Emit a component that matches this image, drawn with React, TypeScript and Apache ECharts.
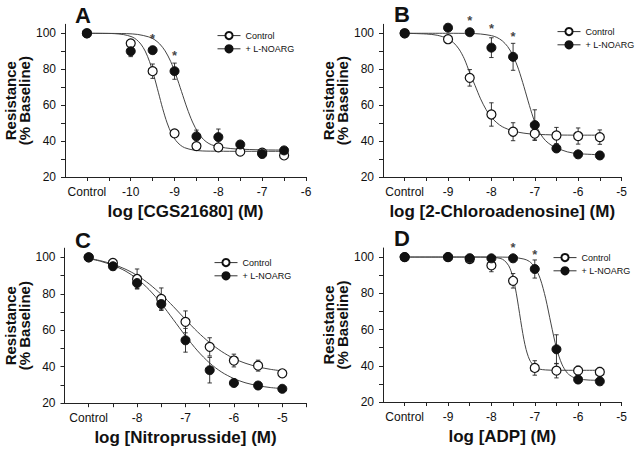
import React, { useEffect, useRef } from 'react';
import * as echarts from 'echarts';

// ---------- shared tick values ----------
const yTickValues = [20, 30, 40, 50, 60, 70, 80, 90, 100];
const yLabelValues = [20, 40, 60, 80, 100];
const seriesNames = ['Control', '+ L-NOARG'];

// ---------- Panel A : CGS21680 ----------
const aTitle = 'log [CGS21680] (M)';
const aControlX = -11;
const aXTicks = [-11, -10.5, -10, -9.5, -9, -8.5, -8, -7.5, -7, -6.5, -6];
const aXLabels = [-11, -10, -9, -8, -7, -6];
const aDose = [-11, -10, -9.5, -9, -8.5, -8, -7.5, -7, -6.5];
const aCtrl = [100, 94.4, 78.9, 44.3, 37.2, 36.5, 34.1, 33.5, 32.0];
const aCtrlErr = [0, 1.5, 4, 1, 1.5, 1, 1, 1, 1];
const aNoarg = [100, 90, 90.6, 78.9, 42.6, 42.2, 38.1, 32.8, 34.8];
const aNoargErr = [0, 3, 2, 4.5, 3.5, 4.5, 1.5, 1.5, 1];
const aCtrlFitX = [-11, -10.5, -10.37, -10.17, -9.97, -9.87, -9.77, -9.67, -9.57, -9.47, -9.37, -9.27, -9.17, -9.07, -8.97, -8.87, -8.77, -8.57, -8.37, -8, -7.5, -7, -6.5];
const aCtrlFitY = [100, 99.9, 99.8, 99.3, 98.0, 96.5, 94.0, 90.1, 84.2, 76.3, 67.2, 58.0, 50.1, 44.2, 40.3, 37.8, 36.3, 35.0, 34.5, 34.35, 34.3, 34.3, 34.3];
const aNoargFitX = [-11, -10.34, -10.09, -9.84, -9.59, -9.465, -9.34, -9.215, -9.09, -8.965, -8.84, -8.715, -8.59, -8.465, -8.34, -8.215, -8.09, -7.84, -7.59, -7, -6.5];
const aNoargFitY = [100, 99.9, 99.8, 99.35, 98.0, 96.6, 94.1, 90.2, 84.4, 76.6, 67.5, 58.4, 50.6, 44.8, 40.9, 38.6, 37.4, 36.2, 35.6, 35.1, 35.0];
const aStarX = [-9.5, -9];
const aStarY = [98.9, 89.4];

// ---------- Panel B : 2-Chloroadenosine ----------
const bTitle = 'log [2-Chloroadenosine] (M)';
const bControlX = -10;
const bXTicks = [-10, -9.5, -9, -8.5, -8, -7.5, -7, -6.5, -6, -5.5, -5];
const bXLabels = [-10, -9, -8, -7, -6, -5];
const bDose = [-10, -9, -8.5, -8, -7.5, -7, -6.5, -6, -5.5];
const bCtrl = [100, 96.7, 75.2, 54.8, 45.2, 44.1, 43.1, 42.8, 42.2];
const bCtrlErr = [0, 1, 4.6, 6.5, 5, 3.5, 4.5, 4.5, 4];
const bNoarg = [100, 103.1, 100.6, 92.0, 86.9, 48.9, 35.9, 32.6, 32.0];
const bNoargErr = [0, 0.5, 0.5, 5.5, 7.5, 8.5, 2, 1.5, 2];
const bCtrlFitX = [-10, -9.5, -9.25, -9, -8.875, -8.75, -8.625, -8.5, -8.375, -8.25, -8.125, -8, -7.875, -7.75, -7.5, -7.25, -7, -6.5, -6, -5.5];
const bCtrlFitY = [100, 99.6, 98.9, 97, 94.8, 91.3, 85.8, 78, 70.8, 63.5, 57.6, 53.2, 50.2, 48.0, 45.6, 44.4, 43.8, 43.4, 43.3, 43.3];
const bNoargFitX = [-10, -9, -8.5, -8.25, -8, -7.875, -7.75, -7.625, -7.5, -7.375, -7.25, -7.125, -7, -6.875, -6.75, -6.625, -6.5, -6.25, -6, -5.5];
const bNoargFitY = [100, 100, 99.9, 99.6, 98.7, 97.7, 95.8, 92.6, 87.5, 80.0, 70.3, 59.9, 50.6, 44.2, 40.2, 37.8, 36.2, 34.0, 33.0, 32.4];
const bStarX = [-8.5, -8, -7.5];
const bStarY = [108.9, 104.2, 100];

// ---------- Panel C : Nitroprusside ----------
const cTitle = 'log [Nitroprusside] (M)';
const cControlX = -9;
const cXTicks = [-9, -8.5, -8, -7.5, -7, -6.5, -6, -5.5, -5, -4.5];
const cXLabels = [-9, -8, -7, -6, -5];
const cDose = [-9, -8.5, -8, -7.5, -7, -6.5, -6, -5.5, -5];
const cCtrl = [100, 96.9, 88.1, 77.2, 64.6, 50.9, 43.4, 40.6, 36.4];
const cCtrlErr = [0, 2, 5.5, 6, 6, 5, 3.5, 3, 1];
const cNoarg = [100, 95.1, 85.9, 74.4, 54.5, 38.1, 31.1, 29.7, 27.9];
const cNoargErr = [0, 2, 3, 3.5, 6.5, 7, 2, 1.5, 1];
const cFitX = [-9, -8.75, -8.5, -8.25, -8, -7.75, -7.5, -7.25, -7, -6.75, -6.5, -6.25, -6, -5.75, -5.5, -5.25, -5];
const cCtrlFitY = [99.5, 98.1, 96.2, 93.6, 90.1, 85.4, 79.6, 73.0, 65.9, 59.1, 53.2, 48.3, 44.5, 41.8, 39.9, 38.6, 37.7];
const cNoargFitY = [99.3, 97.8, 95.6, 92.6, 88.2, 82.2, 74.6, 65.8, 56.9, 48.7, 42.0, 37.0, 33.5, 31.1, 29.6, 28.6, 28.0];
const cStarX: number[] = [];
const cStarY: number[] = [];

// ---------- Panel D : ADP ----------
const dTitle = 'log [ADP] (M)';
const dControlX = -10;
const dXTicks = [-10, -9.5, -9, -8.5, -8, -7.5, -7, -6.5, -6, -5.5, -5];
const dXLabels = [-10, -9, -8, -7, -6, -5];
const dDose = [-10, -9, -8.5, -8, -7.5, -7, -6.5, -6, -5.5];
const dCtrl = [100, 100, 98.9, 95.4, 86.9, 38.8, 37.3, 37.3, 36.6];
const dCtrlErr = [0, 0.5, 1.5, 3.5, 4, 4, 4, 2.5, 2.5];
const dNoarg = [100, 100, 99.4, 99.3, 99.3, 93.4, 49.1, 32.4, 31.4];
const dNoargErr = [0, 0.5, 1, 0.5, 0.5, 5, 8, 1.5, 1.5];
const dCtrlFitX = [-10, -8.5, -8, -7.8, -7.7, -7.6, -7.55, -7.5, -7.45, -7.4, -7.35, -7.3, -7.25, -7.2, -7.15, -7.1, -7, -6.9, -6.75, -6.5, -5.5];
const dCtrlFitY = [100, 100, 99.9, 99.3, 98.1, 95.2, 92.4, 88.5, 83.1, 76.3, 68.75, 61.2, 54.4, 49.0, 45.1, 42.4, 39.4, 38.2, 37.7, 37.5, 37.5];
const dNoargFitX = [-10, -8, -7.5, -7.25, -7.125, -7, -6.875, -6.75, -6.625, -6.5, -6.375, -6.25, -6.125, -6, -5.75, -5.5];
const dNoargFitY = [100, 100, 99.8, 98.9, 97.6, 94.4, 88.1, 77.3, 63.1, 49.8, 40.9, 36.0, 33.8, 32.75, 32.1, 32.0];
const dStarX = [-7.5, -7];
const dStarY = [107.2, 102.9];

// ---------- layout (pixels) ----------
const FONT = 'Liberation Sans, Arial, sans-serif';
const INK = '#111';

interface Panel {
  letter: string; title: string; controlX: number; xMin: number; xMax: number;
  xTicks: number[]; xLabels: number[]; dose: number[];
  ctrl: number[]; ctrlErr: number[]; noarg: number[]; noargErr: number[];
  ctrlFitX: number[]; ctrlFitY: number[]; noargFitX: number[]; noargFitY: number[];
  starX: number[]; starY: number[];
  grid: { left: number; top: number; width: number; height: number };
  legend: { left: number; top: number };
  letterPos: [number, number];
}

const panels: Panel[] = [
  {
    letter: 'A', title: aTitle, controlX: aControlX, xMin: -11.5, xMax: -6,
    xTicks: aXTicks, xLabels: aXLabels, dose: aDose,
    ctrl: aCtrl, ctrlErr: aCtrlErr, noarg: aNoarg, noargErr: aNoargErr,
    ctrlFitX: aCtrlFitX, ctrlFitY: aCtrlFitY, noargFitX: aNoargFitX, noargFitY: aNoargFitY,
    starX: aStarX, starY: aStarY,
    grid: { left: 65, top: 24.3, width: 241, height: 152.7 },
    legend: { left: 217, top: 31 }, letterPos: [83, 15],
  },
  {
    letter: 'B', title: bTitle, controlX: bControlX, xMin: -10.5, xMax: -5,
    xTicks: bXTicks, xLabels: bXLabels, dose: bDose,
    ctrl: bCtrl, ctrlErr: bCtrlErr, noarg: bNoarg, noargErr: bNoargErr,
    ctrlFitX: bCtrlFitX, ctrlFitY: bCtrlFitY, noargFitX: bNoargFitX, noargFitY: bNoargFitY,
    starX: bStarX, starY: bStarY,
    grid: { left: 383, top: 24.3, width: 238.5, height: 152.7 },
    legend: { left: 557, top: 27 }, letterPos: [402, 14],
  },
  {
    letter: 'C', title: cTitle, controlX: cControlX, xMin: -9.5, xMax: -4.5,
    xTicks: cXTicks, xLabels: cXLabels, dose: cDose,
    ctrl: cCtrl, ctrlErr: cCtrlErr, noarg: cNoarg, noargErr: cNoargErr,
    ctrlFitX: cFitX, ctrlFitY: cCtrlFitY, noargFitX: cFitX, noargFitY: cNoargFitY,
    starX: cStarX, starY: cStarY,
    grid: { left: 64.5, top: 248.2, width: 242, height: 155 },
    legend: { left: 214, top: 258 }, letterPos: [83, 240],
  },
  {
    letter: 'D', title: dTitle, controlX: dControlX, xMin: -10.5, xMax: -5,
    xTicks: dXTicks, xLabels: dXLabels, dose: dDose,
    ctrl: dCtrl, ctrlErr: dCtrlErr, noarg: dNoarg, noargErr: dNoargErr,
    ctrlFitX: dCtrlFitX, ctrlFitY: dCtrlFitY, noargFitX: dNoargFitX, noargFitY: dNoargFitY,
    starX: dStarX, starY: dStarY,
    grid: { left: 383, top: 248, width: 238.5, height: 154 },
    legend: { left: 553, top: 253 }, letterPos: [402, 238],
  },
];

const zip = (xs: number[], ys: number[]) => xs.map((x, i) => [x, ys[i]]);
const zip3 = (xs: number[], ys: number[], es: number[]) => xs.map((x, i) => [x, ys[i], es[i]]);

function errorRender(params: any, api: any) {
  const x = api.value(0);
  const y = api.value(1);
  const e = api.value(2);
  if (!e) return null;
  const top = api.coord([x, y + e]);
  const bot = api.coord([x, y - e]);
  const hw = 2.2;
  const st = { stroke: '#222', lineWidth: 0.9 };
  return {
    type: 'group',
    children: [
      { type: 'line', shape: { x1: top[0], y1: top[1], x2: bot[0], y2: bot[1] }, style: st },
      { type: 'line', shape: { x1: top[0] - hw, y1: top[1], x2: top[0] + hw, y2: top[1] }, style: st },
      { type: 'line', shape: { x1: bot[0] - hw, y1: bot[1], x2: bot[0] + hw, y2: bot[1] }, style: st },
    ],
  };
}

function buildOption() {
  const grid: any[] = [];
  const xAxis: any[] = [];
  const yAxis: any[] = [];
  const series: any[] = [];
  const legend: any[] = [];
  const graphic: any[] = [];

  panels.forEach((p, i) => {
    grid.push({ ...p.grid, containLabel: false });
    xAxis.push({
      gridIndex: i, type: 'value', min: p.xMin, max: p.xMax,
      axisLine: { show: true, onZero: false, lineStyle: { color: '#222', width: 1 } },
      axisTick: { show: true, customValues: p.xTicks, length: 4, lineStyle: { color: '#222' } },
      axisLabel: {
        customValues: p.xLabels, fontSize: 12, color: INK, margin: 9, fontFamily: FONT,
        formatter: (v: number) => (v === p.controlX ? 'Control' : String(v)),
      },
      splitLine: { show: false },
      name: p.title, nameLocation: 'middle', nameGap: 26,
      nameTextStyle: { fontSize: 17, fontWeight: 'bold', color: INK, fontFamily: FONT },
    });
    yAxis.push({
      gridIndex: i, type: 'value', min: 20, max: 105,
      axisLine: { show: true, lineStyle: { color: '#222', width: 1 } },
      axisTick: { show: true, customValues: yTickValues, length: 4, lineStyle: { color: '#222' } },
      axisLabel: { customValues: yLabelValues, fontSize: 12, color: INK, margin: 9, fontFamily: FONT },
      splitLine: { show: false },
      name: 'Resistance\n(% Baseline)', nameLocation: 'middle', nameRotate: 90, nameGap: 28,
      nameTextStyle: { fontSize: 15, fontWeight: 'bold', color: INK, fontFamily: FONT, lineHeight: 14 },
    });

    // fitted curves
    series.push({
      name: 'fitCtrl' + i, type: 'line', xAxisIndex: i, yAxisIndex: i,
      data: zip(p.ctrlFitX, p.ctrlFitY), showSymbol: false, smooth: 0.3, silent: true,
      lineStyle: { color: '#444', width: 1 }, z: 2,
    });
    series.push({
      name: 'fitNoarg' + i, type: 'line', xAxisIndex: i, yAxisIndex: i,
      data: zip(p.noargFitX, p.noargFitY), showSymbol: false, smooth: 0.3, silent: true,
      lineStyle: { color: '#444', width: 1 }, z: 2,
    });
    // error bars
    series.push({
      name: 'errCtrl' + i, type: 'custom', xAxisIndex: i, yAxisIndex: i,
      data: zip3(p.dose, p.ctrl, p.ctrlErr), renderItem: errorRender, encode: { x: 0, y: 1 }, z: 3, silent: true,
    });
    series.push({
      name: 'errNoarg' + i, type: 'custom', xAxisIndex: i, yAxisIndex: i,
      data: zip3(p.dose, p.noarg, p.noargErr), renderItem: errorRender, encode: { x: 0, y: 1 }, z: 3, silent: true,
    });
    // points
    series.push({
      name: seriesNames[0], type: 'line', xAxisIndex: i, yAxisIndex: i,
      data: zip(p.dose, p.ctrl), symbol: 'circle', symbolSize: 9, showSymbol: true,
      lineStyle: { width: 0, opacity: 0 },
      itemStyle: { color: '#fff', borderColor: INK, borderWidth: 1.2 }, z: 4,
    });
    series.push({
      name: seriesNames[1], type: 'line', xAxisIndex: i, yAxisIndex: i,
      data: zip(p.dose, p.noarg), symbol: 'circle', symbolSize: 9, showSymbol: true,
      lineStyle: { width: 0, opacity: 0 },
      itemStyle: { color: INK, borderColor: INK, borderWidth: 1 }, z: 5,
    });
    // significance markers
    if (p.starX.length) {
      series.push({
        name: 'star' + i, type: 'scatter', xAxisIndex: i, yAxisIndex: i, clip: false,
        data: zip(p.starX, p.starY), symbolSize: 1, itemStyle: { color: 'rgba(0,0,0,0)' },
        label: {
          show: true, position: 'inside', formatter: '*', fontSize: 13, fontWeight: 'bold',
          color: INK, fontFamily: FONT, offset: [0, 3],
        },
        z: 6, silent: true,
      });
    }

    legend.push({
      data: seriesNames, orient: 'vertical', left: p.legend.left, top: p.legend.top,
      itemWidth: 23, itemHeight: 9, itemGap: 4, padding: 0,
      textStyle: { fontSize: 9, color: INK, fontFamily: FONT },
      lineStyle: { width: 1, color: '#333', opacity: 1 },
      selectedMode: false,
    });

    graphic.push({
      type: 'text', x: p.letterPos[0], y: p.letterPos[1],
      style: {
        text: p.letter, fill: INK, font: 'bold 22px ' + FONT,
        textAlign: 'center', textVerticalAlign: 'middle',
      },
    });
  });

  return {
    animation: false,
    backgroundColor: '#fff',
    textStyle: { fontFamily: FONT },
    grid, xAxis, yAxis, series, legend, graphic,
  };
}

export default function App() {
  const ref = useRef<HTMLDivElement>(null);
  useEffect(() => {
    if (!ref.current) return;
    const chart = echarts.init(ref.current, null, { renderer: 'svg' });
    chart.setOption(buildOption() as any);
    return () => chart.dispose();
  }, []);
  return (
    <div
      ref={ref}
      style={{ position: 'fixed', left: 0, top: 0, width: 640, height: 455, background: '#fff' }}
    />
  );
}
